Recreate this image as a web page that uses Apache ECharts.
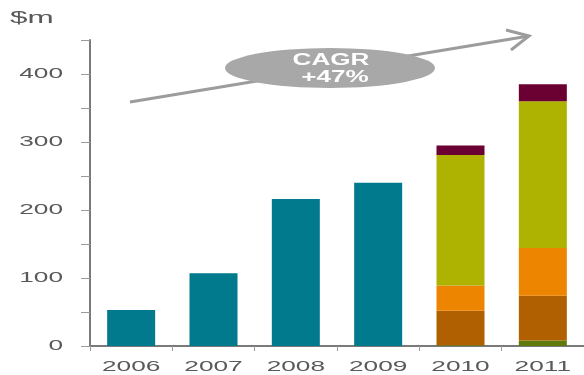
<!DOCTYPE html>
<html><head><meta charset="utf-8">
<script src="https://cdn.jsdelivr.net/npm/echarts@6/dist/echarts.min.js"></script>
<style>html,body{margin:0;padding:0;background:#fff}#c{width:584px;height:375px}</style>
</head><body><div id="c"></div>
<script>
const categories = ['2006','2007','2008','2009','2010','2011'];
const baseSeg   = [53, 107, 216, 240, null, null];
const oliveSeg  = [null, null, null, null, 1, 8];
const brownSeg  = [null, null, null, null, 51, 66];
const orangeSeg = [null, null, null, null, 37, 70];
const greenSeg  = [null, null, null, null, 192, 216];
const maroonSeg = [null, null, null, null, 14, 25];
const yTicks = [0, 100, 200, 300, 400];

const chart = echarts.init(document.getElementById('c'));
const font = 'Liberation Sans, Arial, sans-serif';
const txtColor = '#595959';
const SX = 1.75;
function seg(name, data, color) {
  return { name, type: 'bar', stack: 't', data, barWidth: 48,
    itemStyle: { color }, emphasis: { disabled: true } };
}
chart.setOption({
  animation: false,
  grid: { left: 90, top: 40, width: 497, bottom: 29 },
  xAxis: {
    type: 'category', data: categories,
    axisLine: { lineStyle: { color: '#7a7a7a', width: 2 } },
    axisTick: { show: true, length: 5, lineStyle: { color: '#9a9a9a' } },
    axisLabel: { show: false }
  },
  yAxis: {
    type: 'value', min: 0, max: 450, interval: 50,
    splitLine: { show: false },
    axisLine: { show: true, lineStyle: { color: '#7a7a7a', width: 2 } },
    axisTick: { show: true, length: 9, lineStyle: { color: '#9a9a9a' } },
    axisLabel: { show: false }
  },
  series: [
    seg('base', baseSeg, '#007a8c'),
    seg('olive', oliveSeg, '#5f7a0a'),
    seg('brown', brownSeg, '#b06000'),
    seg('orange', orangeSeg, '#ee8500'),
    seg('green', greenSeg, '#adb300'),
    seg('maroon', maroonSeg, '#6b0033')
  ]
});

const g = [
  { type: 'text', x: 10, y: 18, scaleX: 1.85,
    style: { text: '$m', fontSize: 17, fill: txtColor, fontFamily: font, align: 'left', verticalAlign: 'middle' } },
  { type: 'line', shape: { x1: 130, y1: 102, x2: 529, y2: 36 },
    style: { stroke: '#9c9c9c', lineWidth: 3 } },
  { type: 'polyline', shape: { points: [[506, 30], [529, 36], [511, 50]] },
    style: { stroke: '#9c9c9c', lineWidth: 3, fill: null } },
  { type: 'circle', shape: { cx: 0, cy: 0, r: 20 }, x: 330, y: 68, scaleX: 105/20,
    style: { fill: '#a8a8a8' } },
  { type: 'text', x: 331, y: 61, scaleX: 1.63,
    style: { text: 'CAGR', fill: '#fff', fontSize: 16, fontWeight: 'bold', fontFamily: font,
      align: 'center', verticalAlign: 'middle' } },
  { type: 'text', x: 335, y: 78, scaleX: 1.63,
    style: { text: '+47%', fill: '#fff', fontSize: 16, fontWeight: 'bold', fontFamily: font,
      align: 'center', verticalAlign: 'middle' } }
];
categories.forEach(c => {
  const px = chart.convertToPixel({ xAxisIndex: 0 }, c);
  g.push({ type: 'text', x: px, y: 367, scaleX: SX,
    style: { text: c, fontSize: 15, fill: txtColor, fontFamily: font, align: 'center', verticalAlign: 'middle' } });
});
yTicks.forEach(v => {
  const py = chart.convertToPixel({ yAxisIndex: 0 }, v);
  g.push({ type: 'text', x: 63, y: py, scaleX: SX,
    style: { text: String(v), fontSize: 15, fill: txtColor, fontFamily: font, align: 'right', verticalAlign: 'middle' } });
});
chart.setOption({ graphic: g });
</script></body></html>
